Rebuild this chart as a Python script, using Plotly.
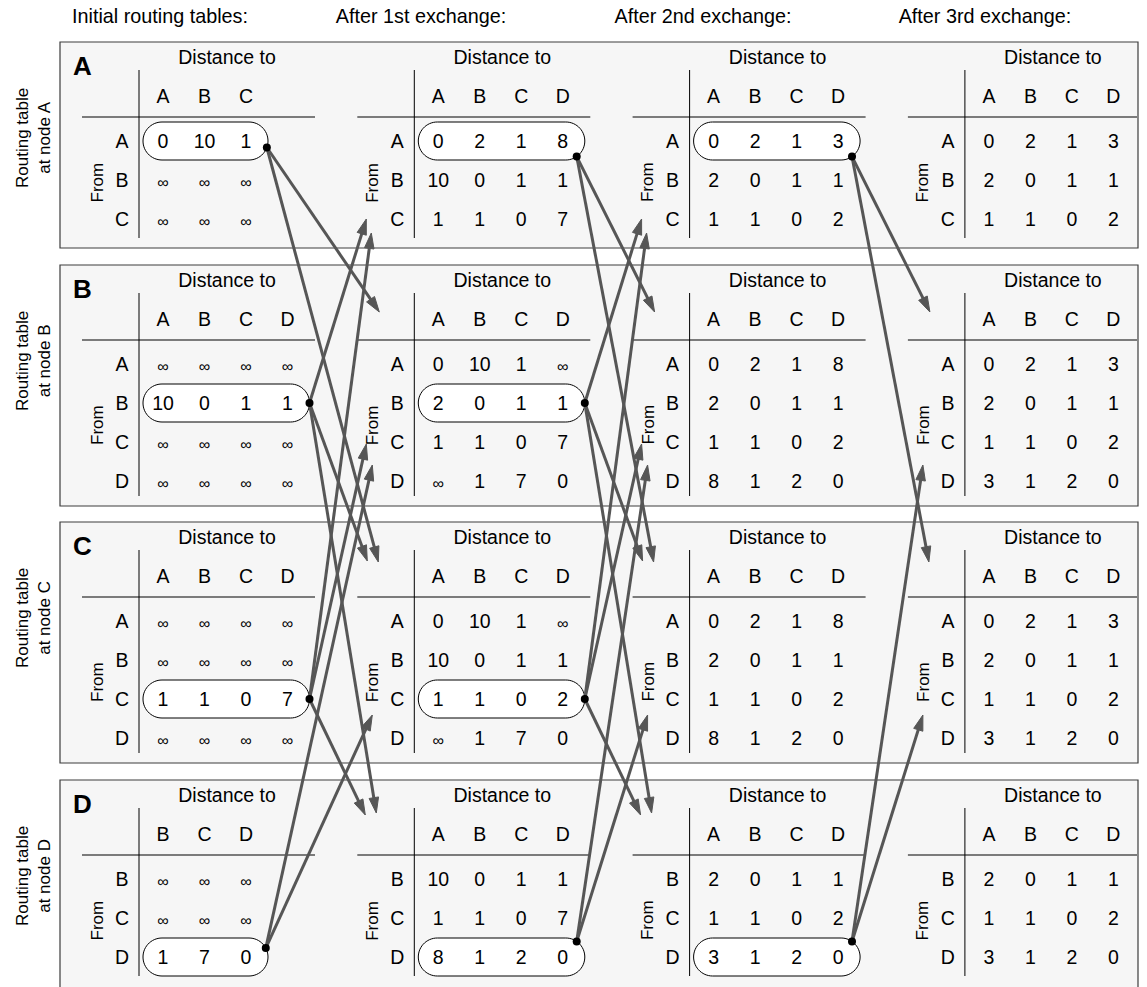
import math
import plotly.graph_objects as go

W, H = 1147, 987
FONT = "Liberation Sans, Arial, Helvetica, sans-serif"

# ---------------- data ----------------
nodes = ["A", "B", "C", "D"]
stage_titles = ["Initial routing tables:", "After 1st exchange:",
                "After 2nd exchange:", "After 3rd exchange:"]
INF = "∞"

row_labels = {"A": ["A", "B", "C"], "B": ["A", "B", "C", "D"],
              "C": ["A", "B", "C", "D"], "D": ["B", "C", "D"]}
initial_cols = {"A": ["A", "B", "C"], "B": ["A", "B", "C", "D"],
                "C": ["A", "B", "C", "D"], "D": ["B", "C", "D"]}
later_cols = ["A", "B", "C", "D"]

dist_A = [
    [[0, 10, 1], [INF, INF, INF], [INF, INF, INF]],
    [[0, 2, 1, 8], [10, 0, 1, 1], [1, 1, 0, 7]],
    [[0, 2, 1, 3], [2, 0, 1, 1], [1, 1, 0, 2]],
    [[0, 2, 1, 3], [2, 0, 1, 1], [1, 1, 0, 2]],
]
dist_B = [
    [[INF, INF, INF, INF], [10, 0, 1, 1], [INF, INF, INF, INF], [INF, INF, INF, INF]],
    [[0, 10, 1, INF], [2, 0, 1, 1], [1, 1, 0, 7], [INF, 1, 7, 0]],
    [[0, 2, 1, 8], [2, 0, 1, 1], [1, 1, 0, 2], [8, 1, 2, 0]],
    [[0, 2, 1, 3], [2, 0, 1, 1], [1, 1, 0, 2], [3, 1, 2, 0]],
]
dist_C = [
    [[INF, INF, INF, INF], [INF, INF, INF, INF], [1, 1, 0, 7], [INF, INF, INF, INF]],
    [[0, 10, 1, INF], [10, 0, 1, 1], [1, 1, 0, 2], [INF, 1, 7, 0]],
    [[0, 2, 1, 8], [2, 0, 1, 1], [1, 1, 0, 2], [8, 1, 2, 0]],
    [[0, 2, 1, 3], [2, 0, 1, 1], [1, 1, 0, 2], [3, 1, 2, 0]],
]
dist_D = [
    [[INF, INF, INF], [INF, INF, INF], [1, 7, 0]],
    [[10, 0, 1, 1], [1, 1, 0, 7], [8, 1, 2, 0]],
    [[2, 0, 1, 1], [1, 1, 0, 2], [3, 1, 2, 0]],
    [[2, 0, 1, 1], [1, 1, 0, 2], [3, 1, 2, 0]],
]
distances = {"A": dist_A, "B": dist_B, "C": dist_C, "D": dist_D}

neighbors = {"A": ["B", "C"], "B": ["A", "C", "D"],
             "C": ["A", "B", "D"], "D": ["B", "C"]}
# stages at which a node's own row is sent to its neighbours
sent_stages = {"A": [0, 1, 2], "B": [0, 1], "C": [0, 1], "D": [0, 1, 2]}

# ---------------- layout constants (pixels) ----------------
BOX_X0, BOX_X1 = 60, 1138
panel_top = {"A": 42, "B": 265, "C": 522, "D": 780}
TABLE_X0, TABLE_DX = 139, 275.3
COL0, COLSP = 24, 41.5
ROW0, ROWSP = 101.5, 39
title_x = [160, 421, 703, 985]
PILL_R = 19
TXT = 19.5
dot_angle = {"A": [20, 55, 55], "B": [0, 0, 0], "C": [0, 0, 0], "D": [-28, -55, -55]}
arrow_end = {("A", "B"): (-35, 47), ("A", "C"): (-36, 40),
             ("B", "A"): (-48, 177), ("B", "C"): (-47, 39), ("B", "D"): (-38, 33),
             ("C", "A"): (-43, 191), ("C", "B"): (-48, 179), ("C", "D"): (-49, 35),
             ("D", "B"): (-42, 200), ("D", "C"): (-42, 193)}
ARROW_COLOR = "#565656"
HEAD_L, HEAD_W = 15.5, 4.8


def table_x(s):
    return TABLE_X0 + s * TABLE_DX


def panel_h(n):
    return 206 + 35 * (len(row_labels[n]) - 3)


shapes, annotations = [], []
tx, ty, tt, ts = [], [], [], []


def add_text(x, y, t, size=TXT):
    tx.append(x); ty.append(y); tt.append(t); ts.append(size)


# column titles
for s, title in enumerate(stage_titles):
    add_text(title_x[s], 18, title, 19.8)

dots_x, dots_y = [], []
pill_dot = {}

for n in nodes:
    T = panel_top[n]
    ph = panel_h(n)
    y_bot = T + ph if T + ph < H - 5 else H + 4
    shapes.append(dict(type="rect", xref="x", yref="y", x0=BOX_X0, x1=BOX_X1, y0=T, y1=y_bot,
                       fillcolor="#f6f6f6", line=dict(color="#3c3c3c", width=1.2), layer="below"))
    annotations.append(dict(x=BOX_X0 + 22, y=T + 24, xref="x", yref="y", text="<b>%s</b>" % n,
                            showarrow=False, font=dict(size=26, color="black", family=FONT)))
    annotations.append(dict(x=33, y=T + 96, xref="x", yref="y",
                            text="Routing table<br>at node %s" % n, textangle=-90,
                            showarrow=False, font=dict(size=17, color="black", family=FONT)))
    rows = row_labels[n]
    row_y = [T + ROW0 + ROWSP * i for i in range(len(rows))]
    for s in range(4):
        V = table_x(s)
        cols = initial_cols[n] if s == 0 else later_cols
        col_x = [V + COL0 + COLSP * j for j in range(len(cols))]
        # pill highlight
        if s in sent_stages[n]:
            i = rows.index(n)
            cy = row_y[i] - 2.5
            x0 = V + 4
            x1 = col_x[-1] + 22
            pts = []
            for k in range(0, 31):
                a = math.pi / 2 - math.pi * k / 30
                pts.append((x1 - PILL_R + PILL_R * math.cos(a), cy - PILL_R * math.sin(a)))
            for k in range(0, 31):
                a = -math.pi / 2 - math.pi * k / 30
                pts.append((x0 + PILL_R + PILL_R * math.cos(a), cy - PILL_R * math.sin(a)))
            path = "M " + " L ".join("%.2f,%.2f" % p for p in pts) + " Z"
            shapes.append(dict(type="path", xref="x", yref="y", path=path, fillcolor="white",
                               line=dict(color="black", width=1), layer="below"))
            ang = math.radians(dot_angle[n][s])
            dx = x1 - PILL_R + PILL_R * math.cos(ang)
            dy = cy + PILL_R * math.sin(ang)
            pill_dot[(n, s)] = (dx, dy)
            dots_x.append(dx); dots_y.append(dy)
        # table rules
        shapes.append(dict(type="line", xref="x", yref="y", x0=V, x1=V, y0=T + 28, y1=T + ph - 10,
                           line=dict(color="black", width=1), layer="below"))
        shapes.append(dict(type="line", xref="x", yref="y", x0=V - 57, x1=min(V + 176, BOX_X1 - 1),
                           y0=T + 75, y1=T + 75, line=dict(color="black", width=1), layer="below"))
        add_text(V + 88, T + 17, "Distance to")
        for j, c in enumerate(cols):
            add_text(col_x[j], T + 56, c)
        for i, r in enumerate(rows):
            add_text(V - 17, row_y[i], r)
            for j in range(len(cols)):
                v = distances[n][s][i][j]
                if v == INF:
                    add_text(col_x[j], row_y[i] + 1, INF, 16)
                else:
                    add_text(col_x[j], row_y[i], str(v))
        annotations.append(dict(x=V - 42, y=sum(row_y) / len(row_y), xref="x", yref="y",
                                text="From", textangle=-90, showarrow=False,
                                font=dict(size=17, color="black", family=FONT)))

# arrows
lx, ly, hx, hy = [], [], [], []
for (n, s), (sx, sy) in pill_dot.items():
    if s >= 3:
        continue
    V = table_x(s + 1)
    for m in neighbors[n]:
        ox, oy = arrow_end[(n, m)]
        ex, ey = V + ox, panel_top[m] + oy
        L = math.hypot(ex - sx, ey - sy)
        ux, uy = (ex - sx) / L, (ey - sy) / L
        bx, by = ex - HEAD_L * ux, ey - HEAD_L * uy
        lx += [sx, bx + 2 * ux, None]; ly += [sy, by + 2 * uy, None]
        hx += [ex, bx - HEAD_W * uy, bx + HEAD_W * uy, ex, None]
        hy += [ey, by + HEAD_W * ux, by - HEAD_W * ux, ey, None]

fig = go.Figure()
fig.add_trace(go.Scatter(x=tx, y=ty, text=tt, mode="text", hoverinfo="skip",
                         textfont=dict(size=ts, color="black", family=FONT), showlegend=False))
fig.add_trace(go.Scatter(x=lx, y=ly, mode="lines", hoverinfo="skip", showlegend=False,
                         line=dict(color=ARROW_COLOR, width=3)))
fig.add_trace(go.Scatter(x=hx, y=hy, mode="lines", fill="toself", fillcolor=ARROW_COLOR,
                         hoverinfo="skip", showlegend=False,
                         line=dict(color=ARROW_COLOR, width=1)))
fig.add_trace(go.Scatter(x=dots_x, y=dots_y, mode="markers", hoverinfo="skip", showlegend=False,
                         marker=dict(size=8, color="black")))

fig.update_layout(
    width=W, height=H, margin=dict(l=0, r=0, t=0, b=0),
    paper_bgcolor="white", plot_bgcolor="white",
    xaxis=dict(range=[0, W], visible=False, fixedrange=True),
    yaxis=dict(range=[H, 0], visible=False, fixedrange=True),
    shapes=shapes, annotations=annotations, showlegend=False,
    font=dict(family=FONT),
)
fig.write_html("out.html", config={"displayModeBar": False},
               post_script="document.body.style.margin='0';document.body.style.overflow='hidden';")
